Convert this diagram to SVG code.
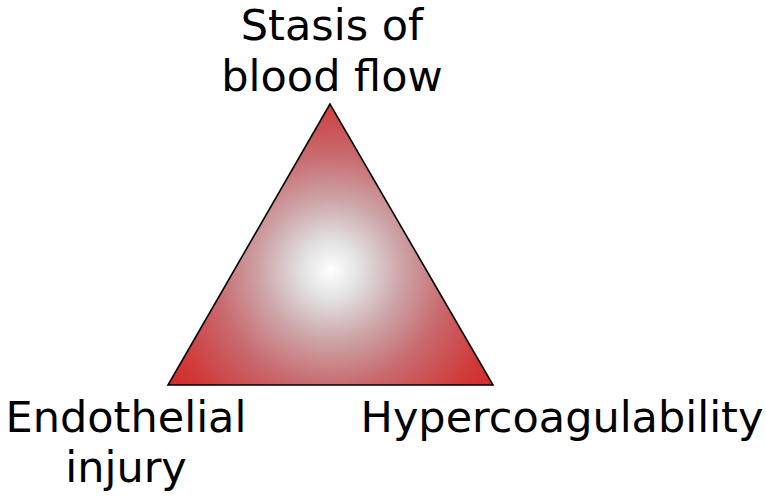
<svg xmlns="http://www.w3.org/2000/svg" width="766" height="496" viewBox="0 0 766 496">
<style>
text{font-family:"DejaVu Sans",sans-serif;font-size:43px;fill:#000;text-anchor:middle}
</style>
<defs>
<radialGradient id="g" gradientUnits="userSpaceOnUse" cx="331" cy="270" r="200">
<stop offset="0" stop-color="#ffffff"/>
<stop offset="0.15" stop-color="#e2e0e0"/>
<stop offset="0.35" stop-color="#cda5a8"/>
<stop offset="0.58" stop-color="#c86a6e"/>
<stop offset="0.85" stop-color="#d03a3a"/>
<stop offset="1" stop-color="#d42a2a"/>
</radialGradient>
</defs>
<g id="triangle">
<polygon points="330,104 168,385 493,385" fill="url(#g)" stroke="#000" stroke-width="1.6" stroke-linejoin="miter"/>
</g>
<g id="top">
<text x="332" y="40">Stasis of</text>
<text x="332" y="91">blood flow</text>
</g>
<g id="left">
<text x="126" y="432">Endothelial</text>
<text x="126" y="482">injury</text>
</g>
<g id="right">
<text x="562" y="432">Hypercoagulability</text>
</g>
</svg>
